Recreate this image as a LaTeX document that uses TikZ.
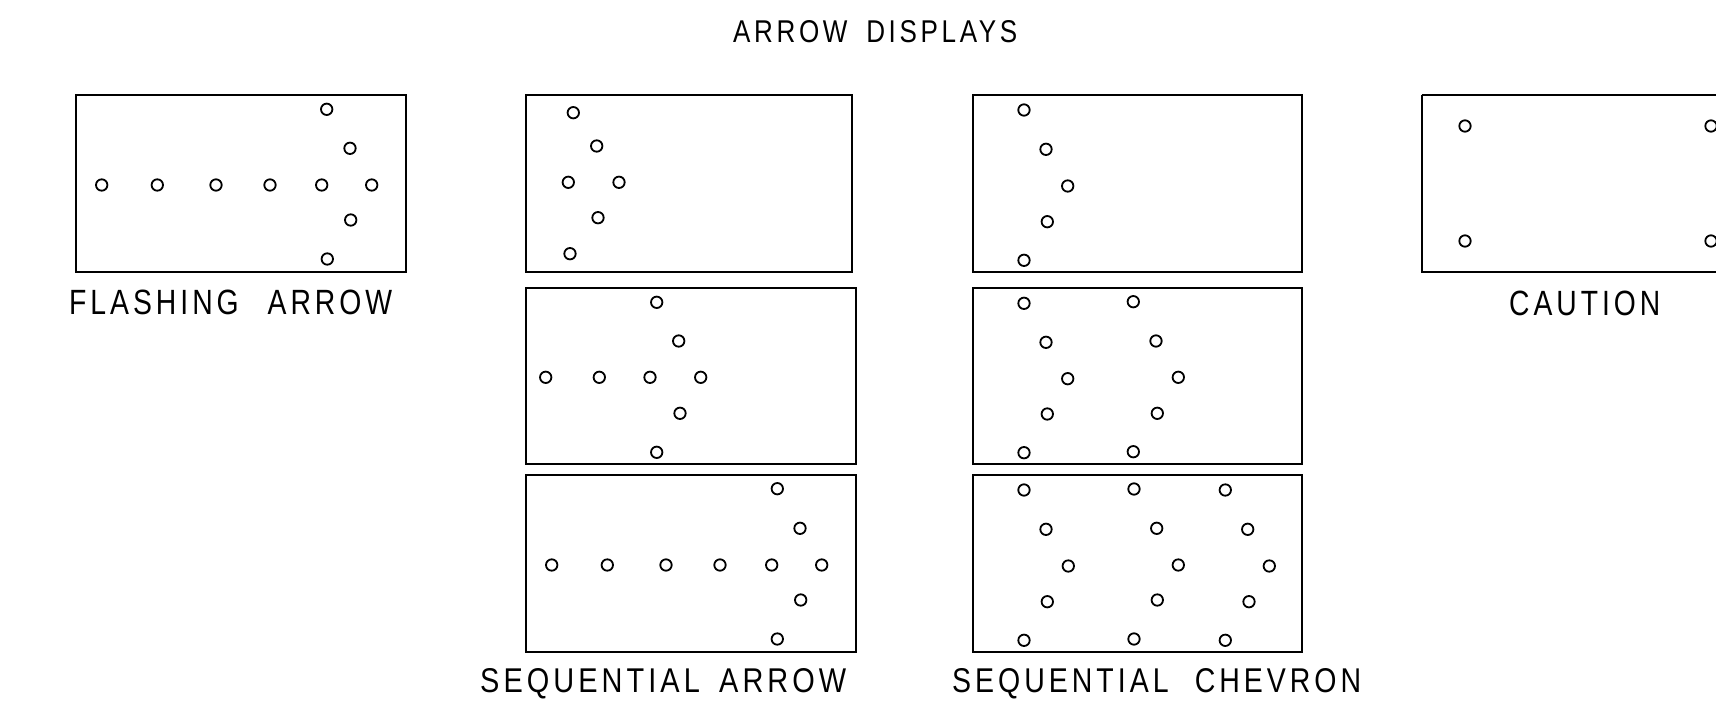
\documentclass[tikz,border=0pt]{standalone}
\usepackage{fontspec}
\setmainfont{Liberation Sans}[LetterSpace=14]
\usepackage{graphicx}
\begin{document}
\begin{tikzpicture}[x=1pt,y=-1pt,
  panel/.style={draw=black,line width=1.9pt},
  lamp/.style={draw=black,line width=1.8pt},
  lbl/.style={inner sep=0pt,anchor=base west}]
\useasboundingbox (0,0) rectangle (1716,701);
\begin{scope}
\clip (0,0) rectangle (1716,701);
% title
\node[lbl] (title) at (733,42.7) {\resizebox{284pt}{22pt}{ARROW\hspace{0.3em} DISPLAYS}};
% flashing arrow
\draw[panel] (76,95) rectangle (405.7,271.7);
\foreach \p in {(326.7,109.3),(350,148.3),(101.7,185),(157.3,185),(216,185),(270,185),(321.7,185),(371.7,185),(350.7,220),(327.3,259)}
  \draw[lamp] \p circle (5.7);
\node[lbl] (flashlbl) at (69,314.5) {\resizebox{323pt}{24.5pt}{FLASHING\hspace{0.6em} ARROW}};
% sequential arrow
\draw[panel] (526,95) rectangle (852.3,271.7);
\foreach \p in {(573.3,112.7),(596.7,146),(568.3,182.3),(619,182.3),(598,217.7),(570,253.7)}
  \draw[lamp] \p circle (5.7);
\draw[panel] (526,288.3) rectangle (855.7,464.3);
\foreach \p in {(656.7,302.3),(678.7,341),(545.7,377.3),(599.3,377.3),(650,377.3),(700.7,377.3),(680,413.3),(656.7,452.3)}
  \draw[lamp] \p circle (5.7);
\draw[panel] (526,475) rectangle (855.7,651.7);
\foreach \p in {(777.3,488.7),(800,528.3),(551.7,565),(607.3,565),(666,565),(720,565),(771.7,565),(821.7,565),(800.7,600),(777.3,639)}
  \draw[lamp] \p circle (5.7);
\node[lbl] (seqlbl) at (480,692.5) {\resizebox{366pt}{24pt}{SEQUENTIAL\hspace{0.25em} ARROW}};
% sequential chevron
\draw[panel] (972.7,95) rectangle (1302.3,271.7);
\foreach \p in {(1024,110),(1046,149.3),(1067.7,186),(1047.3,221.7),(1024,260.3)}
  \draw[lamp] \p circle (5.7);
\draw[panel] (972.7,288.3) rectangle (1302.3,464.3);
\foreach \p in {(1024,303.3),(1046,342.3),(1067.7,378.7),(1047.3,414),(1024,452.7),
                (1133.3,301.7),(1156,341),(1178.3,377.3),(1157.3,413.3),(1133.3,451.7)}
  \draw[lamp] \p circle (5.7);
\draw[panel] (972.7,475) rectangle (1302.3,651.7);
\foreach \p in {(1024,490),(1046,529.3),(1068.3,566),(1047.3,601.7),(1024,640.3),
                (1134,489),(1156.7,528.3),(1178.3,565),(1157.3,600),(1134,639),
                (1225.3,490),(1247.7,529.3),(1269.3,566),(1249,601.7),(1225.3,640.3)}
  \draw[lamp] \p circle (5.7);
\node[lbl] (chevlbl) at (952,692.5) {\resizebox{409pt}{24pt}{SEQUENTIAL\hspace{0.5em} CHEVRON}};
% caution
\draw[panel] (1421.7,95) -- (1760,95) (1421.7,95) -- (1421.7,271.7) -- (1760,271.7);
\foreach \p in {(1465,126),(1465,241),(1711,126),(1711,241)}
  \draw[lamp] \p circle (5.7);
\node[lbl] (cautionlbl) at (1509,315) {\resizebox{151pt}{24.5pt}{CAUTION}};
\end{scope}
\end{tikzpicture}
\end{document}
